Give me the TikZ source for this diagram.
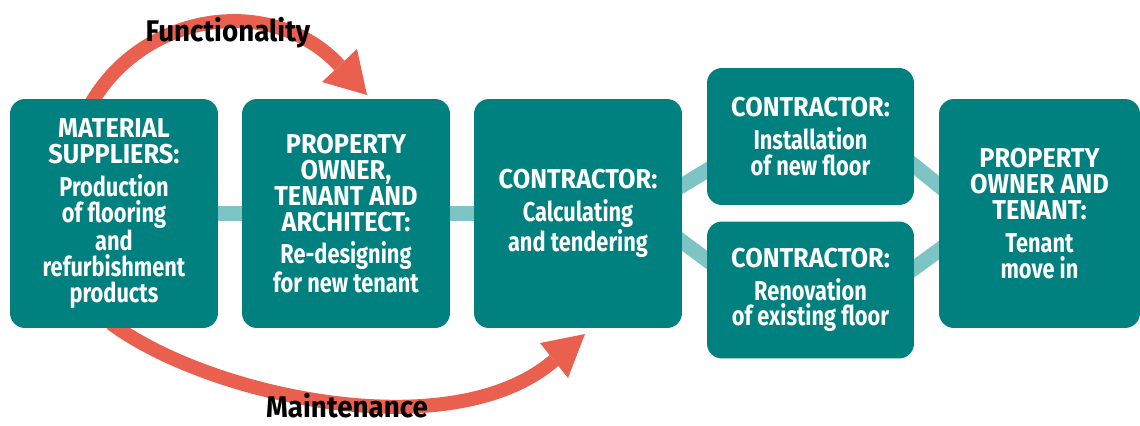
\documentclass[tikz,border=0pt]{standalone}
\usepackage{fontspec}
\setmainfont{Fira Sans}[FakeStretch=0.8]
\newfontfamily\headf{Fira Sans}[FakeStretch=0.93]
\usetikzlibrary{backgrounds,calc}
\definecolor{tealA}{HTML}{00807F}
\definecolor{tealL}{HTML}{7DC4C4}
\definecolor{redA}{HTML}{E9604F}
\newcommand\hd[1]{{\headf\bfseries #1}}
\begin{document}
\begin{tikzpicture}[x=0.02cm,y=-0.02cm,
  box/.style={draw=none,fill=tealA,rounded corners=0.3cm,text=white,align=center,
    font=\bfseries\fontsize{15.5}{14.7}\selectfont,inner sep=0pt},
  bigbox/.style={box,minimum width=4.16cm,minimum height=4.58cm},
  smallbox/.style={box,minimum width=4.14cm,minimum height=2.74cm},
  link/.style={draw=tealL,line width=0.3cm},
  flow/.style={draw=redA,line width=0.28cm},
  headfill/.style={fill=redA},
  lab/.style={font=\headf\bfseries\fontsize{17}{17}\selectfont,text=black,inner sep=0pt}]
\useasboundingbox (0,0) rectangle (1140,426);

\node[bigbox] (c1) at (114,213.5) {\hd{MATERIAL}\\\hd{SUPPLIERS:}\\[4pt]Production\\of flooring\\and\\refurbishment\\products};
\node[bigbox] (c2) at (346,213.5) {\hd{PROPERTY}\\\hd{OWNER,}\\\hd{TENANT AND}\\\hd{ARCHITECT:}\\[4pt]Re-designing\\for new tenant};
\node[bigbox] (c3) at (578,213.5) {\hd{CONTRACTOR:}\\[4pt]Calculating\\and tendering};
\node[smallbox] (c4) at (810.5,136.5) {\hd{CONTRACTOR:}\\[4pt]Installation\\of new floor};
\node[smallbox] (c5) at (810.5,290) {\hd{CONTRACTOR:}\\[4pt]Renovation\\of existing floor};
\node[bigbox,minimum width=4.02cm] (c6) at (1039.5,213.5) {\hd{PROPERTY}\\\hd{OWNER AND}\\\hd{TENANT:}\\[4pt]Tenant\\move in};

\coordinate (f0) at ($(c1.north)+(-23,5)$);
\coordinate (fe) at (339.5,65.5);
\coordinate (ft) at (367,95);
\coordinate (m0) at ($(c1.south)+(-3,-5)$);
\coordinate (me) at (554,360.5);
\coordinate (mt) at (585,334);

\begin{pgfonlayer}{background}
  \fill[white] (0,0) rectangle (1140,426);
  \draw[link] (c1) -- (c2);
  \draw[link] (c2) -- (c3);
  \draw[link] ([shift={(-30,-10)}]c3.east) -- ([shift={(30,16)}]c4.west);
  \draw[link] ([shift={(-30,6)}]c3.east) -- ([shift={(30,-8)}]c5.west);
  \draw[link] ([shift={(-30,5)}]c4.east) -- ([shift={(30,-4)}]c6.west);
  \draw[link] ([shift={(-30,0)}]c5.east) -- ([shift={(30,15)}]c6.west);
  \draw[flow] (f0) .. controls (144.3,11.3) and (272.2,-6.7) .. (fe);
  \draw[flow] (m0) .. controls (209,396) and (451,449) .. (me);
\end{pgfonlayer}

\fill[headfill] (357,49) -- (ft) -- (322,82) -- cycle;
\fill[headfill] (540,343) -- (mt) -- (568,378) -- cycle;

\node[lab] (fl) at (228,33) {Functionality};
\node[lab] (mn) at (347,406) {Maintenance};
\end{tikzpicture}
\end{document}
